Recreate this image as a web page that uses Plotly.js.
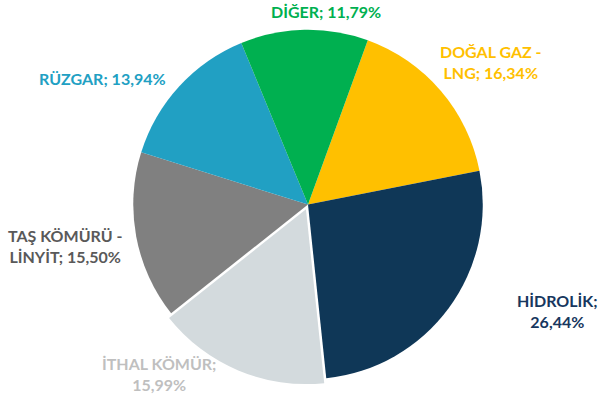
<!DOCTYPE html>
<html>
<head>
<meta charset="utf-8">
<script src="https://cdn.plot.ly/plotly-3.0.1.min.js"></script>
<style>html,body{margin:0;padding:0;background:#fff;}#chart{width:603px;height:403px;}</style>
</head>
<body>
<div id="chart"></div>
<script>
// Data (clockwise from just right of 12 o'clock)
const categories = ['DOĞAL GAZ - LNG', 'HİDROLİK', 'İTHAL KÖMÜR', 'TAŞ KÖMÜRÜ - LİNYİT', 'RÜZGAR', 'DİĞER'];
const shares = [16.34, 26.44, 15.99, 15.50, 13.94, 11.79];
const labelTexts = ['DOĞAL GAZ -<br>LNG; 16,34%', 'HİDROLİK;<br>26,44%', 'İTHAL KÖMÜR;<br>15,99%', 'TAŞ KÖMÜRÜ -<br>LİNYİT; 15,50%', 'RÜZGAR; 13,94%', 'DİĞER; 11,79%'];

// Styles
const sliceColors = ['#FFC000', '#0F3757', '#D3DADD', '#808080', '#21A0C3', '#00B050'];
const textColors = ['#FFC000', '#17375E', '#BFBFBF', '#595959', '#21A0C3', '#00B050'];
const pulls = [0, 0, 0.03, 0, 0, 0];
const labelPos = [[491, 62], [557, 311], [159, 374], [65, 246], [102, 78], [326, 12]];

const W = 603, H = 403;
const annotations = categories.map((c, i) => ({
  xref: 'paper', yref: 'paper',
  x: labelPos[i][0] / W, y: 1 - labelPos[i][1] / H,
  xanchor: 'center', yanchor: 'middle',
  text: '<b>' + labelTexts[i] + '</b>',
  showarrow: false, align: 'center',
  font: {family: 'Lato, "Open Sans", sans-serif', size: 16, color: textColors[i]}
}));

const trace = {
  type: 'pie',
  labels: categories,
  values: shares,
  sort: false,
  direction: 'clockwise',
  rotation: 20,
  pull: pulls,
  textinfo: 'none',
  hoverinfo: 'none',
  marker: {colors: sliceColors, line: {color: '#ffffff', width: 0}},
  domain: {x: [0.2123, 0.8093], y: [0.0446, 0.9404]},
  showlegend: false
};

Plotly.newPlot('chart', [trace], {
  width: W, height: H,
  margin: {l: 0, r: 0, t: 0, b: 0},
  paper_bgcolor: '#ffffff',
  showlegend: false,
  annotations: annotations
}, {displayModeBar: false, staticPlot: true});
</script>
</body>
</html>
